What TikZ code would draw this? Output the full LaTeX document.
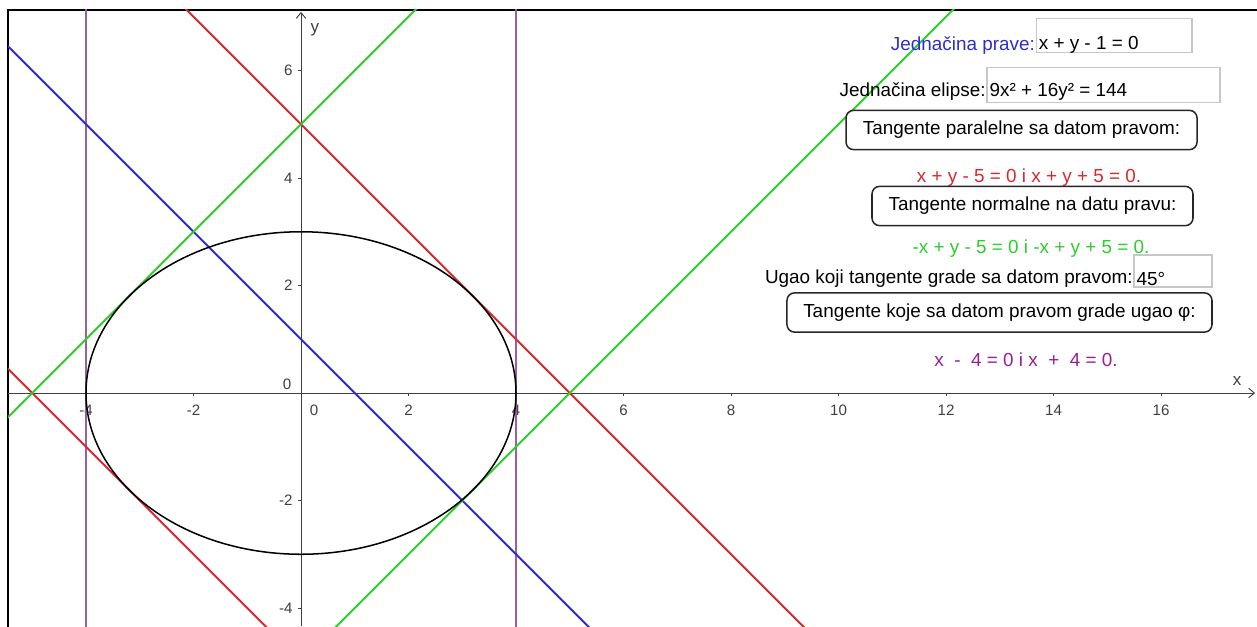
\documentclass[tikz,border=0pt]{standalone}
\usepackage{fontspec}
\setmainfont{Liberation Sans}
\usetikzlibrary{arrows.meta,positioning}

\definecolor{pravaBlue}{RGB}{45,45,205}
\definecolor{tangRed}{RGB}{215,40,45}
\definecolor{tangGreen}{RGB}{45,205,45}
\definecolor{tangPurple}{RGB}{155,95,165}
\definecolor{txtPurple}{RGB}{150,30,150}

\begin{document}
\begin{tikzpicture}[
  axis/.style={draw=black!75, line width=0.5pt, -{Straight Barb[length=3pt,width=5pt]}},
  tickmark/.style={draw=black!75, line width=0.5pt},
  numlbl/.style={inner sep=0pt, font=\fontsize{8}{9}\selectfont, text=black!75},
  prava/.style={line width=1.05pt, draw=pravaBlue},
  tang/.style={line width=1.05pt, draw=#1},
  conic/.style={line width=0.8pt, draw=black},
  lbl/.style={inner sep=0pt, font=\fontsize{10}{12}\selectfont},
  inputbox/.style={draw=black!22, line width=0.6pt, inner sep=0pt, minimum height=0.64cm},
  button/.style={draw=black!85, line width=0.8pt, rounded corners=4pt, fill=white, inner sep=0pt, minimum height=0.73cm, font=\fontsize{10}{12}\selectfont}
]
\useasboundingbox (-5.600,-4.335) rectangle (17.786,7.312);

% frame
\draw[line width=1.1pt] (-5.451,-4.4) -- (-5.451,7.126) -- (17.9,7.126);

\begin{scope}
\clip (-5.451,-4.335) rectangle (17.786,7.126);
% axes
\draw[axis] (-5.451,0) -- (17.75,0);
\draw[axis] (0,-4.335) -- (0,7.09);
\foreach \xv in {-4,-2,2,4,...,16} {
  \draw[tickmark] (\xv,0) -- (\xv,-0.06);
  \node[numlbl] (xl\xv) at (\xv,-0.316) {\xv};
}
\foreach \yv in {-4,-2,2,4,6} {
  \draw[tickmark] (0,\yv) -- (-0.06,\yv);
  \node[numlbl, anchor=east] (yl\yv) at (-0.15,\yv) {\yv};
}
\node[numlbl] (zeroY) at (-0.26,0.167) {0};
\node[numlbl] (zeroX) at (0.242,-0.316) {0};
\node[numlbl, font=\fontsize{9}{10}\selectfont] (xname) at (17.414,0.223) {x};
\node[numlbl, font=\fontsize{9}{10}\selectfont] (yname) at (0.26,6.753) {y};

% lines
\draw[tang=tangPurple, line width=1.3pt] (-4,-5) -- (-4,8);
\draw[tang=tangPurple, line width=1.3pt] (4,-5) -- (4,8);
\draw[prava] (-6,7) -- (7,-6);
\draw[tang=tangRed] (-3,8) -- (10,-5);
\draw[tang=tangRed] (-6,1) -- (1,-6);
\draw[tang=tangGreen] (-6,-1) -- (3,8);
\draw[tang=tangGreen] (0,-5) -- (13,8);
\draw[conic] (0,0) ellipse [x radius=4, y radius=3];
\end{scope}

% right panel
\node[inputbox, minimum width=2.90cm] (praveBox) at (15.126,6.651) {};
\node[lbl, text=pravaBlue, anchor=east] (praveLbl) at (13.66,6.47) {Jednačina prave:};
\node[lbl, anchor=west, right=0.06cm of praveLbl] (praveEq) {x + y - 1 = 0};

\node[inputbox, minimum width=4.335cm] (elipseBox) at (14.93,5.730) {};
\node[lbl, anchor=east] (elipseLbl) at (12.744,5.60) {Jednačina elipse:};
\node[lbl, anchor=west, right=0.06cm of elipseLbl] (elipseEq) {9x² + 16y² = 144};

\node[button, minimum width=6.53cm] (btnParalel) at (13.405,4.893) {Tangente paralelne sa datom pravom:};
\node[lbl, text=tangRed] (eqParalel) at (13.544,4.01) {x + y - 5 = 0 i x + y + 5 = 0.};

\node[button, minimum width=5.972cm] (btnNormal) at (13.609,3.479) {Tangente normalne na datu pravu:};
\node[lbl, text=tangGreen] (eqNormal) at (13.581,2.68) {-x + y - 5 = 0 i -x + y + 5 = 0.};

\node[inputbox, minimum width=1.451cm, minimum height=0.595cm] (ugaoBox) at (16.223,2.270) {};
\node[lbl, anchor=east] (ugaoLbl) at (15.479,2.12) {Ugao koji tangente grade sa datom pravom:};
\node[lbl, anchor=west, right=0.06cm of ugaoLbl] (ugaoVal) {45°};

\node[button, minimum width=7.907cm] (btnUgao) at (12.995,1.498) {Tangente koje sa datom pravom grade ugao φ:};
\node[lbl, text=txtPurple] (eqUgao) at (13.488,0.62) {x~~-~~4 = 0 i x~~+~~4 = 0.};

\end{tikzpicture}
\end{document}
